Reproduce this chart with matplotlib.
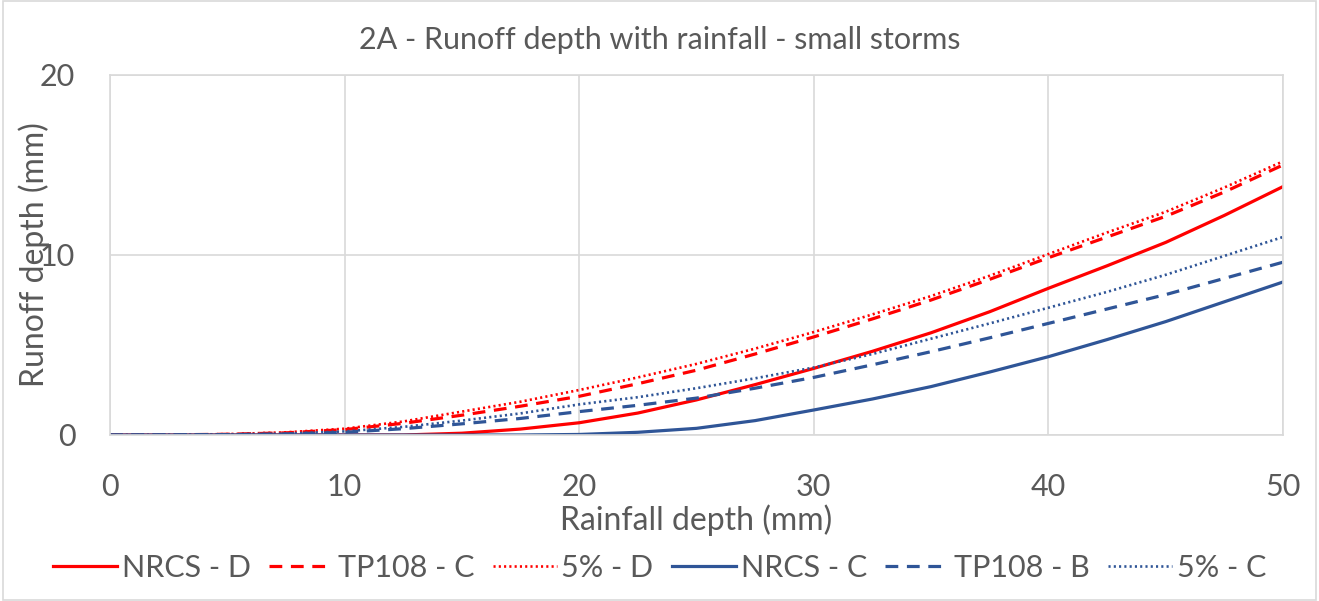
import numpy as np
import matplotlib.pyplot as plt
from matplotlib.patches import Rectangle

# Rainfall depth (mm)
rain = [0, 2.5, 5, 7.5, 10, 12.5, 15, 17.5, 20, 22.5, 25, 27.5, 30, 32.5, 35, 37.5, 40, 42.5, 45, 47.5, 50]

# Runoff depth (mm)
nrcs_d = [0, 0, 0, 0, 0, 0.0, 0.1, 0.33, 0.68, 1.22, 1.95, 2.8, 3.7, 4.65, 5.68, 6.85, 8.15, 9.4, 10.7, 12.2, 13.8]
tp108_c = [0, 0.01, 0.04, 0.12, 0.3, 0.65, 1.1, 1.6, 2.15, 2.85, 3.6, 4.5, 5.45, 6.45, 7.5, 8.65, 9.85, 11.0, 12.15, 13.5, 15.0]
pct5_d = [0, 0.01, 0.05, 0.15, 0.35, 0.75, 1.3, 1.85, 2.5, 3.2, 3.95, 4.8, 5.72, 6.7, 7.72, 8.85, 10.05, 11.25, 12.4, 13.75, 15.2]
nrcs_c = [0, 0, 0, 0, 0, 0, 0, 0, 0.03, 0.15, 0.37, 0.8, 1.39, 2.0, 2.69, 3.5, 4.35, 5.3, 6.3, 7.4, 8.5]
tp108_b = [0, 0.01, 0.02, 0.06, 0.15, 0.35, 0.62, 0.92, 1.3, 1.65, 2.05, 2.6, 3.2, 3.9, 4.63, 5.4, 6.2, 7.0, 7.8, 8.7, 9.6]
pct5_c = [0, 0.01, 0.03, 0.08, 0.2, 0.45, 0.8, 1.2, 1.7, 2.1, 2.6, 3.15, 3.75, 4.5, 5.35, 6.2, 7.07, 7.95, 8.9, 9.95, 11.0]

labels = ["NRCS - D", "TP108 - C", "5% - D", "NRCS - C", "TP108 - B", "5% - C"]

red = "#FF0000"
blue = "#2F5597"
grey_txt = "#595959"
grid_c = "#D9D9D9"

plt.rcParams['font.family'] = ['Lato', 'DejaVu Sans']

fig = plt.figure(figsize=(13.19, 6.01), dpi=100)
ax = fig.add_axes([110/1319, 1 - 435/601, (1283-110)/1319, (435-75)/601])

dash = (0, (4, 2.7))
dot = (0, (0.8, 1.2))
ax.plot(rain, nrcs_d, color=red, lw=2.3, label=labels[0])
ax.plot(rain, tp108_c, color=red, lw=2.3, ls=dash, label=labels[1])
ax.plot(rain, pct5_d, color=red, lw=1.9, ls=dot, label=labels[2])
ax.plot(rain, nrcs_c, color=blue, lw=2.3, label=labels[3])
ax.plot(rain, tp108_b, color=blue, lw=2.3, ls=dash, label=labels[4])
ax.plot(rain, pct5_c, color=blue, lw=1.9, ls=dot, label=labels[5])

ax.set_xlim(0, 50)
ax.set_ylim(0, 20)
ax.set_xticks([0, 10, 20, 30, 40, 50])
ax.set_yticks([0, 10, 20])
ax.grid(True, color=grid_c, lw=1.2)
ax.set_axisbelow(True)
for s in ax.spines.values():
    s.set_color(grid_c)
    s.set_linewidth(1.2)
ax.tick_params(length=0, labelsize=22, labelcolor=grey_txt)
ax.tick_params(axis='x', pad=27)
ax.tick_params(axis='y', pad=25)

# title is centred on the whole chart, not the plot area
fig.text(0.5, 1 - 40/601, "2A - Runoff depth with rainfall - small storms", fontsize=22,
         color=grey_txt, ha='center', va='center')
ax.set_xlabel("Rainfall depth (mm)", fontsize=23, color=grey_txt, labelpad=3)
ax.set_ylabel("Runoff depth (mm)", fontsize=23, color=grey_txt)
ax.yaxis.set_label_coords(-(110 - 50) / 1173, 0.5)

leg = fig.legend(loc='center', bbox_to_anchor=(0.5, 1 - 568/601), ncol=6, frameon=False,
                 fontsize=22, handlelength=2.1, handletextpad=0.15, columnspacing=0.6,
                 labelcolor=grey_txt)

# outer chart border
fig.patches.append(Rectangle((0.002, 0.002), 0.996, 0.996, transform=fig.transFigure,
                             fill=False, edgecolor=grid_c, lw=1.2))

fig.savefig("out.png", dpi=100)
